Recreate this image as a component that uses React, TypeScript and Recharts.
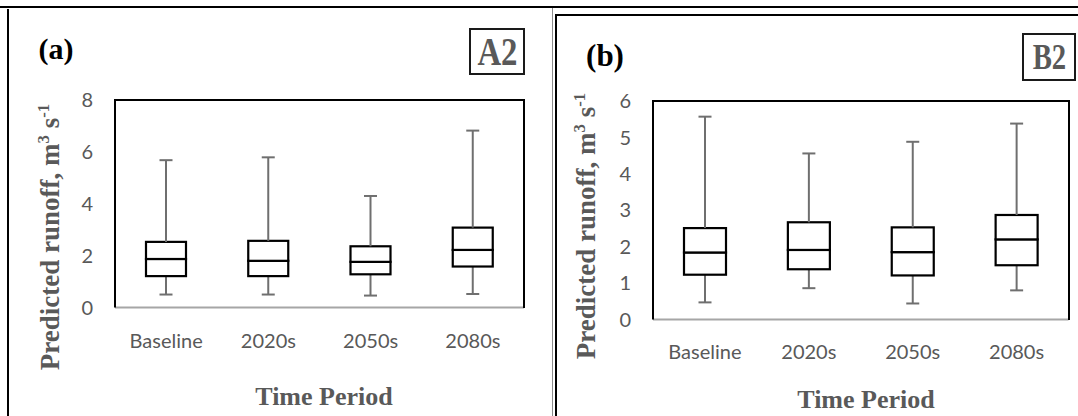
import React from 'react';
import { ComposedChart, Bar, XAxis, YAxis } from 'recharts';

const categories = ['Baseline', '2020s', '2050s', '2080s'];

// Panel (a) A2
const a2Min = [0.5, 0.5, 0.46, 0.52];
const a2Q1 = [1.21, 1.21, 1.28, 1.58];
const a2Median = [1.87, 1.8, 1.76, 2.22];
const a2Q3 = [2.53, 2.57, 2.36, 3.08];
const a2Max = [5.68, 5.79, 4.3, 6.82];
const a2Ticks = [0, 2, 4, 6, 8];

// Panel (b) B2
const b2Min = [0.47, 0.86, 0.44, 0.8];
const b2Q1 = [1.23, 1.38, 1.21, 1.49];
const b2Median = [1.84, 1.91, 1.85, 2.2];
const b2Q3 = [2.51, 2.67, 2.53, 2.87];
const b2Max = [5.57, 4.56, 4.88, 5.38];
const b2Ticks = [0, 1, 2, 3, 4, 5, 6];

const buildRows = (mn: number[], q1: number[], md: number[], q3: number[], mx: number[]) =>
  categories.map((c, i) => ({
    cat: c,
    base: mn[i],
    lw: q1[i] - mn[i],
    lb: md[i] - q1[i],
    ub: q3[i] - md[i],
    uw: mx[i] - q3[i],
  }));

const WHISKER = '#6f6f6f';
const TXT = '#595959';
const SERIF = '"Liberation Serif", "Times New Roman", serif';
const SANS = 'Lato, "Open Sans", sans-serif';

const LowerWhisker = (p: any) => {
  const cx = p.x + p.width / 2;
  const yb = p.y + p.height;
  return (
    <g>
      <line x1={cx} x2={cx} y1={p.y} y2={yb} stroke={WHISKER} strokeWidth={2} />
      <line x1={cx - 6.5} x2={cx + 6.5} y1={yb} y2={yb} stroke={WHISKER} strokeWidth={2} />
    </g>
  );
};

const UpperWhisker = (p: any) => {
  const cx = p.x + p.width / 2;
  return (
    <g>
      <line x1={cx} x2={cx} y1={p.y} y2={p.y + p.height} stroke={WHISKER} strokeWidth={2} />
      <line x1={cx - 6.5} x2={cx + 6.5} y1={p.y} y2={p.y} stroke={WHISKER} strokeWidth={2} />
    </g>
  );
};

const BoxPart = (p: any) => (
  <rect x={p.x} y={p.y} width={p.width} height={p.height} fill="#fff" stroke="#000" strokeWidth={2.2} />
);

type PanelProps = {
  rows: any[];
  ticks: number[];
  width: number;
  barSize: number;
  marginLeft: number;
  marginRight: number;
  marginTop: number;
  marginBottom: number;
  tickMarginX: number;
};

const Panel = (pp: PanelProps) => {
  const top = pp.ticks[pp.ticks.length - 1];
  return (
    <ComposedChart
      width={pp.width}
      height={416}
      data={pp.rows}
      margin={{ top: pp.marginTop, right: pp.marginRight, left: pp.marginLeft, bottom: pp.marginBottom }}
      barCategoryGap={0}
    >
      <XAxis
        dataKey="cat"
        height={60}
        tickSize={0}
        tickMargin={pp.tickMarginX}
        axisLine={{ stroke: '#a6a6a6', strokeWidth: 2 }}
        tickLine={false}
        tick={{ fill: TXT, fontSize: 20, fontFamily: SANS }}
      />
      <YAxis
        domain={[0, top]}
        ticks={pp.ticks}
        width={60}
        tickSize={0}
        tickMargin={22}
        axisLine={{ stroke: '#000', strokeWidth: 2 }}
        tickLine={false}
        tick={{ fill: TXT, fontSize: 20, fontFamily: SANS }}
        interval={0}
      />
      <Bar dataKey="base" stackId="s" fill="transparent" barSize={pp.barSize} isAnimationActive={false} />
      <Bar dataKey="lw" stackId="s" shape={LowerWhisker} barSize={pp.barSize} isAnimationActive={false} />
      <Bar dataKey="lb" stackId="s" shape={BoxPart} barSize={pp.barSize} isAnimationActive={false} />
      <Bar dataKey="ub" stackId="s" shape={BoxPart} barSize={pp.barSize} isAnimationActive={false} />
      <Bar dataKey="uw" stackId="s" shape={UpperWhisker} barSize={pp.barSize} isAnimationActive={false} />
    </ComposedChart>
  );
};

const abs = (s: React.CSSProperties): React.CSSProperties => ({ position: 'absolute', ...s });

const YTitle = ({ cx, cy }: { cx: number; cy: number }) => (
  <div
    style={abs({
      left: cx,
      top: cy,
      transform: 'translate(-50%, -50%) rotate(-90deg)',
      whiteSpace: 'nowrap',
      fontFamily: SERIF,
      fontWeight: 'bold',
      fontSize: 27,
      color: TXT,
      lineHeight: 1,
    })}
  >
    Predicted runoff, m<sup style={{ fontSize: '0.62em', verticalAlign: '0.55em', lineHeight: 0 }}>3</sup> s
    <sup style={{ fontSize: '0.62em', verticalAlign: '0.55em', lineHeight: 0 }}>-1</sup>
  </div>
);

const XTitle = ({ cx, cy }: { cx: number; cy: number }) => (
  <div
    style={abs({
      left: cx,
      top: cy,
      transform: 'translate(-50%, -50%)',
      whiteSpace: 'nowrap',
      fontFamily: SERIF,
      fontWeight: 'bold',
      fontSize: 26,
      color: TXT,
      lineHeight: 1,
    })}
  >
    Time Period
  </div>
);

const PanelLetter = ({ cx, cy, text, size }: { cx: number; cy: number; text: string; size: number }) => (
  <div
    style={abs({
      left: cx,
      top: cy,
      transform: 'translate(-50%, -50%)',
      fontFamily: SERIF,
      fontWeight: 'bold',
      fontSize: size,
      color: '#000',
      lineHeight: 1,
      whiteSpace: 'nowrap',
    })}
  >
    {text}
  </div>
);

const Tag = ({ l, t, w, h, text, size }: { l: number; t: number; w: number; h: number; text: string; size: number }) => (
  <div
    style={abs({
      left: l,
      top: t,
      width: w,
      height: h,
      boxSizing: 'border-box',
      border: '2px solid #1a1a1a',
      display: 'flex',
      alignItems: 'center',
      justifyContent: 'center',
      background: '#fff',
    })}
  >
    <span
      style={{
        fontFamily: SERIF,
        fontWeight: 'bold',
        fontSize: size,
        color: TXT,
        lineHeight: 1,
        display: 'inline-block',
        transform: 'scaleX(0.82)',
        whiteSpace: 'nowrap',
      }}
    >
      {text}
    </span>
  </div>
);

const PlotFrame = ({ l, t, w, h }: { l: number; t: number; w: number; h: number }) => (
  <div
    style={abs({
      left: l,
      top: t,
      width: w,
      height: h,
      boxSizing: 'border-box',
      borderTop: '2px solid #000',
      borderRight: '2px solid #000',
      pointerEvents: 'none',
    })}
  />
);

export default function App() {
  const rowsA = buildRows(a2Min, a2Q1, a2Median, a2Q3, a2Max);
  const rowsB = buildRows(b2Min, b2Q1, b2Median, b2Q3, b2Max);
  return (
    <div style={abs({ left: 0, top: 0, width: 1078, height: 416, background: '#fff', overflow: 'hidden' })}>
      {/* frame lines */}
      <div style={abs({ left: 0, top: 6, width: 1078, height: 2, background: '#000' })} />
      <div style={abs({ left: 7, top: 9, width: 2, height: 407, background: '#000' })} />
      <div style={abs({ left: 552, top: 8, width: 1, height: 408, background: '#8c8c8c' })} />
      <div style={abs({ left: 555, top: 14, width: 523, height: 2, background: '#000' })} />
      <div style={abs({ left: 555, top: 14, width: 2, height: 402, background: '#000' })} />

      <div style={abs({ left: 0, top: 0 })}>
        <Panel
          rows={rowsA}
          ticks={a2Ticks}
          width={552}
          barSize={40}
          marginLeft={55}
          marginRight={28}
          marginTop={100}
          marginBottom={48.5}
          tickMarginX={26.5}
        />
      </div>
      <div style={abs({ left: 557, top: 0 })}>
        <Panel
          rows={rowsB}
          ticks={b2Ticks}
          width={521}
          barSize={42}
          marginLeft={36}
          marginRight={9.5}
          marginTop={101}
          marginBottom={36.5}
          tickMarginX={25.5}
        />
      </div>

      <PlotFrame l={114} t={99} w={411} h={209} />
      <PlotFrame l={652} t={100} w={417.5} h={220} />

      <YTitle cx={50} cy={237} />
      <YTitle cx={586} cy={226} />
      <XTitle cx={324} cy={397} />
      <XTitle cx={866} cy={400} />
      <PanelLetter cx={56} cy={49} text="(a)" size={30} />
      <PanelLetter cx={605} cy={55} text="(b)" size={31} />
      <Tag l={469} t={28} w={56} h={47} text="A2" size={40} />
      <Tag l={1022} t={33} w={54} h={48} text="B2" size={35} />
    </div>
  );
}
